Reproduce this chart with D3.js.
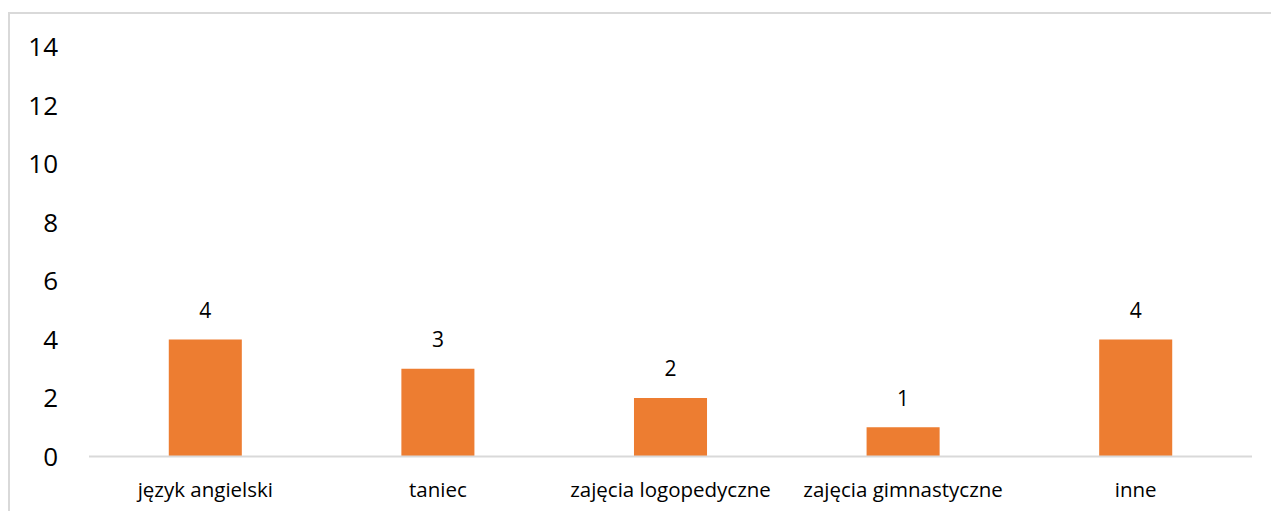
<!DOCTYPE html>
<html lang="pl">
<head>
<meta charset="UTF-8">
<title>Zajęcia dodatkowe</title>
<script src="https://cdn.jsdelivr.net/npm/d3@7/dist/d3.min.js"></script>
<style>
    body { margin: 0; background: #fff; }
    svg { display: block; font-family: "Open Sans", "Liberation Sans", sans-serif; }
</style>
</head>
<body>
<svg id="main" width="1271" height="511"></svg>
<script>
    const categories = ['język angielski', 'taniec', 'zajęcia logopedyczne', 'zajęcia gimnastyczne', 'inne'];
    const values = [4, 3, 2, 1, 4];
    const yTicks = [0, 2, 4, 6, 8, 10, 12, 14];

    const svg = d3.select('svg#main');
    const plotLeft = 89, plotRight = 1252, plotTop = 47, plotBottom = 456.5;

    // chart frame
    svg.append('rect')
        .attr('x', 9).attr('y', 13)
        .attr('width', 1275).attr('height', 520)
        .attr('fill', 'none')
        .attr('stroke', '#d9d9d9')
        .attr('stroke-width', 2);

    const x = d3.scaleBand()
        .domain(categories)
        .range([plotLeft, plotRight])
        .paddingInner(0.686)
        .paddingOuter(0.343);

    const y = d3.scaleLinear()
        .domain([0, 14])
        .range([plotBottom, plotTop]);

    // y labels
    svg.append('g')
        .selectAll('text')
        .data(yTicks)
        .enter()
        .append('text')
        .attr('x', 58)
        .attr('y', d => y(d))
        .attr('dy', '0.35em')
        .attr('text-anchor', 'end')
        .attr('font-size', 26)
        .attr('fill', '#000')
        .text(d => d);

    svg.selectAll('rect.bar')
        .data(values)
        .enter()
        .append('rect')
        .attr('class', 'bar')
        .attr('x', (d, i) => x(categories[i]))
        .attr('y', d => y(d))
        .attr('width', x.bandwidth())
        .attr('height', d => y(0) - y(d))
        .attr('fill', '#ed7d31');

    // x axis line
    svg.append('line')
        .attr('x1', plotLeft).attr('x2', plotRight)
        .attr('y1', y(0)).attr('y2', y(0))
        .attr('stroke', '#d9d9d9')
        .attr('stroke-width', 2);

    // value labels
    svg.selectAll('text.val')
        .data(values)
        .enter()
        .append('text')
        .attr('class', 'val')
        .attr('x', (d, i) => x(categories[i]) + x.bandwidth() / 2)
        .attr('y', d => y(d) - 29)
        .attr('dy', '0.35em')
        .attr('text-anchor', 'middle')
        .attr('font-size', 21)
        .text(d => d);

    // category labels
    svg.selectAll('text.cat')
        .data(categories)
        .enter()
        .append('text')
        .attr('class', 'cat')
        .attr('x', d => x(d) + x.bandwidth() / 2)
        .attr('y', 490)
        .attr('dy', '0.35em')
        .attr('text-anchor', 'middle')
        .attr('font-size', 20.5)
        .text(d => d);
</script>
</body>
</html>
